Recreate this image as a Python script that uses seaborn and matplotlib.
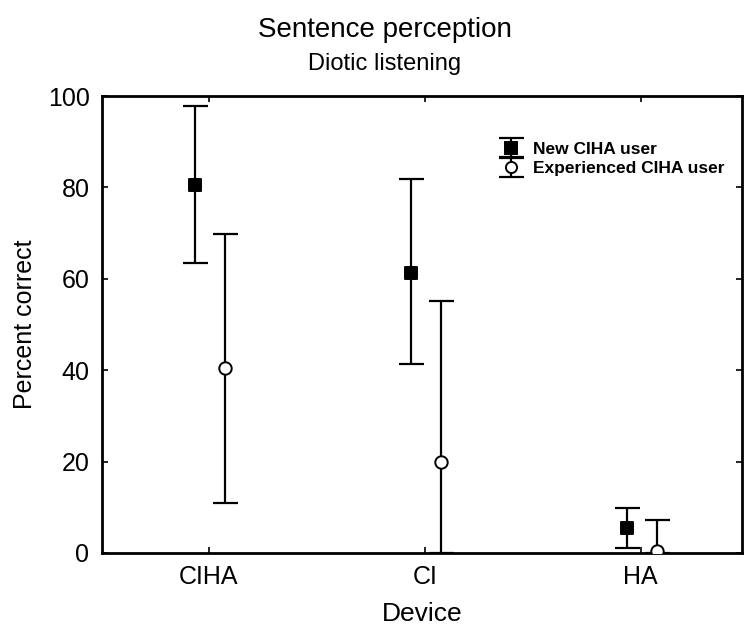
import matplotlib
matplotlib.use("Agg")
import matplotlib.pyplot as plt
import seaborn as sns
import numpy as np
import pandas as pd
from matplotlib.lines import Line2D
from matplotlib.container import ErrorbarContainer
from matplotlib.legend_handler import HandlerTuple, HandlerErrorbar

devices = ["CIHA", "CI", "HA"]
series_names = ["New CIHA user", "Experienced CIHA user"]
new_mean = [80.5, 61.3, 5.5]
new_low = [63.5, 41.4, 1.1]
new_high = [97.8, 81.8, 9.8]
exp_mean = [40.5, 19.9, 0.5]
exp_low = [10.9, 0.0, 0.0]
exp_high = [69.8, 55.1, 7.2]
yticks = [0, 20, 40, 60, 80, 100]

sns.set_theme(style="ticks")
plt.rcParams["font.family"] = ["Liberation Sans", "DejaVu Sans"]
plt.rcParams["text.color"] = "black"
plt.rcParams["axes.labelcolor"] = "black"

fig = plt.figure(figsize=(7.45, 6.29), dpi=100)
ax = fig.add_axes([102 / 745, 76 / 629, 640 / 745, 457 / 629])

offsets = [-0.065, 0.075]
idx = np.arange(len(devices))
frames = []
for name, off, m in zip(series_names, offsets, [new_mean, exp_mean]):
    frames.append(pd.DataFrame({"x": idx + off, "y": m, "series": name}))
df = pd.concat(frames, ignore_index=True)

handles = []
for name, off, m, lo, hi, marker, face in [
    (series_names[0], offsets[0], new_mean, new_low, new_high, "s", "black"),
    (series_names[1], offsets[1], exp_mean, exp_low, exp_high, "o", "white"),
]:
    m = np.array(m); lo = np.array(lo); hi = np.array(hi)
    eb = ax.errorbar(idx + off, m, yerr=[m - lo, hi - m], fmt="none",
                     ecolor="black", elinewidth=1.6, capsize=9, capthick=1.6,
                     zorder=2)
    sub = df[df["series"] == name]
    sns.scatterplot(data=sub, x="x", y="y", marker=marker, s=80,
                    color=face, edgecolor="black", linewidth=1.4,
                    ax=ax, zorder=3, legend=False)
    mk = Line2D([], [], marker=marker, ls="none", mfc=face,
                mec="black", ms=8, mew=1.4)
    handles.append((eb, mk))

ax.set_xlim(-0.495, 2.47)
ax.set_ylim(0, 100)
ax.set_xticks(idx)
ax.set_xticklabels(devices)
ax.set_yticks(yticks)
ax.tick_params(direction="in", length=4, width=1.2, top=True, right=True,
               labelsize=18, colors="black", pad=9)
for s in ax.spines.values():
    s.set_linewidth(2)
    s.set_color("black")
ax.set_xlabel("Device", fontsize=19, labelpad=9)
ax.set_ylabel("Percent correct", fontsize=18, labelpad=8)

fig.text(385 / 745, 1 - 30 / 629, "Sentence perception", ha="center",
         va="center", fontsize=20)
fig.text(385 / 745, 1 - 64 / 629, "Diotic listening", ha="center",
         va="center", fontsize=17)

leg = ax.legend(handles, series_names,
                handler_map={tuple: HandlerTuple(ndivide=1, pad=0),
                             ErrorbarContainer: HandlerErrorbar(yerr_size=0.58)},
                loc="upper left", bbox_to_anchor=(388 / 640, 0.915),
                frameon=False, prop={"weight": "bold", "size": 12.5},
                handlelength=1.6, handletextpad=0.5, labelspacing=0.25,
                borderaxespad=0)

fig.savefig("out.png", dpi=100)
